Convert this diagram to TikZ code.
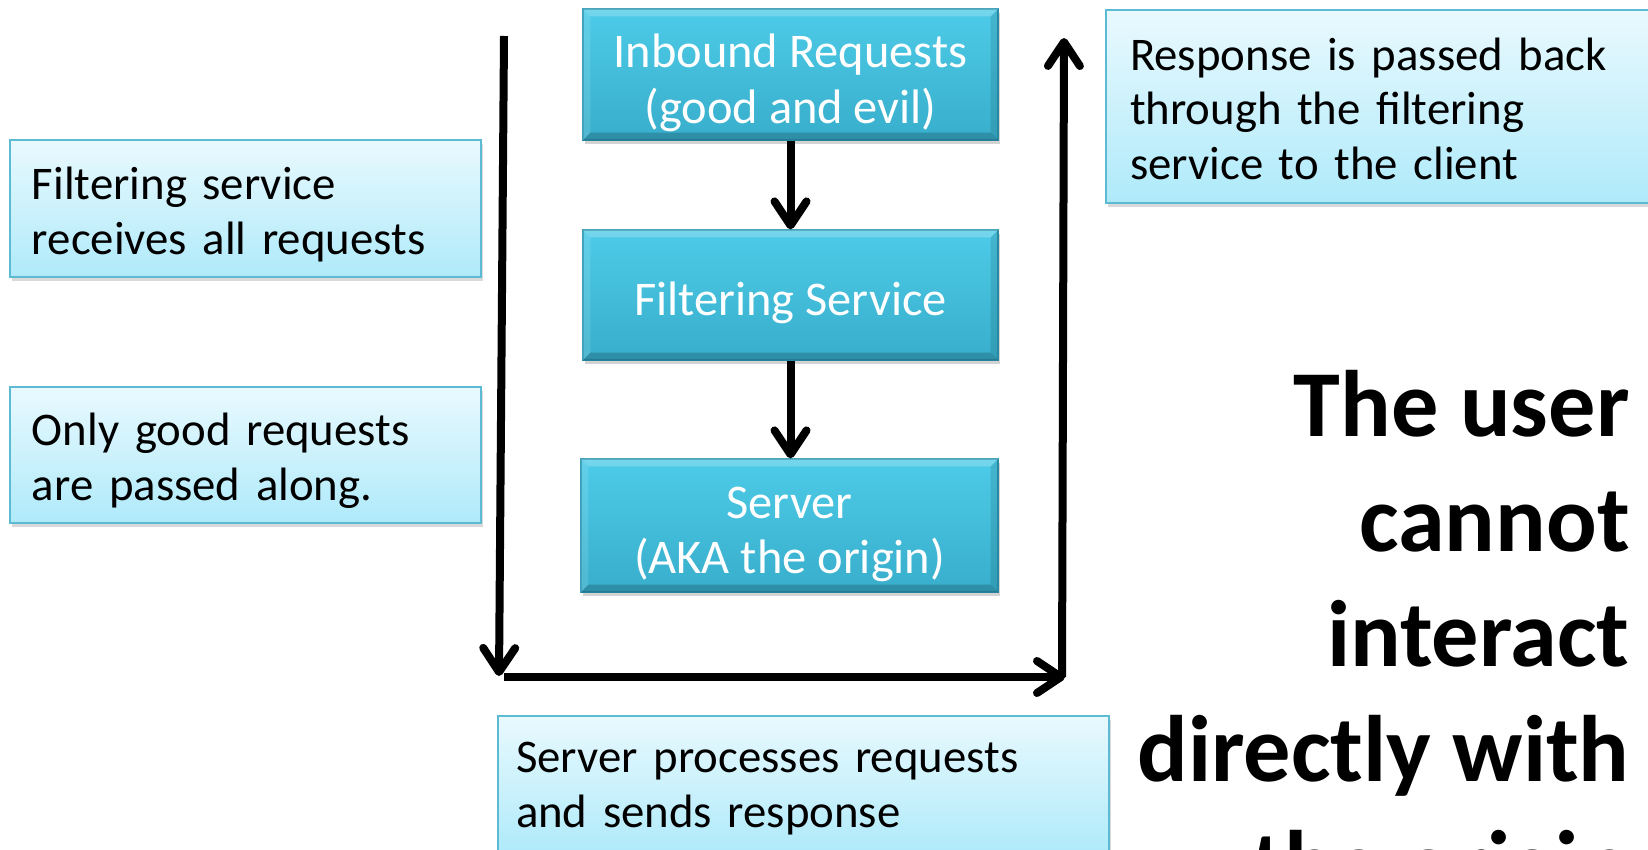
\documentclass[tikz,border=0pt]{standalone}
\usepackage{fontspec}
\setmainfont{Carlito}
\usetikzlibrary{arrows.meta,shadows,calc}
\definecolor{tealtop}{HTML}{4DCBE8}
\definecolor{tealbot}{HTML}{38AECB}
\definecolor{tealedge}{HTML}{2C97B2}
\definecolor{notetop}{HTML}{E9F9FE}
\definecolor{notebot}{HTML}{AFEAFA}
\definecolor{noteedge}{HTML}{5CBAD2}
\newcommand\boxbevel[1]{%
 \fill[white,opacity=0.22] (#1.north west) -- (#1.north east) -- ($(#1.north east)+(-8,8)$) -- ($(#1.north west)+(8,8)$) -- cycle;
 \fill[white,opacity=0.12] (#1.north west) -- ($(#1.north west)+(8,8)$) -- ($(#1.south west)+(8,-8)$) -- (#1.south west) -- cycle;
 \fill[black,opacity=0.10] (#1.north east) -- ($(#1.north east)+(-8,8)$) -- ($(#1.south east)+(-8,-8)$) -- (#1.south east) -- cycle;
 \fill[black,opacity=0.18] (#1.south west) -- ($(#1.south west)+(8,-8)$) -- ($(#1.south east)+(-8,-8)$) -- (#1.south east) -- cycle;
}
\newcommand\lift[1]{\rule{0pt}{#1}}
\begin{document}
\begin{tikzpicture}[x=0.5pt,y=-0.5pt,
  procbox/.style={rectangle, draw=tealedge, line width=0.6pt, top color=tealtop, bottom color=tealbot,
    text=white, font=\fontsize{24.2}{27.8}\selectfont, align=center, inner sep=0pt,
    drop shadow={opacity=0.35, shadow xshift=1pt, shadow yshift=-2pt}},
  notebox/.style={rectangle, draw=noteedge, line width=0.8pt, top color=notetop, bottom color=notebot,
    text=black, font=\fontsize{23.4}{27.3}\selectfont, align=left, inner ysep=0pt,
    drop shadow={opacity=0.3, shadow xshift=1pt, shadow yshift=-2pt}},
  flow/.style={line width=4pt, -{Straight Barb[length=12pt,width=16pt,round]}},
  bigtext/.style={font=\fontsize{47.2}{57.5}\bfseries\selectfont, anchor=base east, inner sep=0pt}
]
\useasboundingbox (0,0) rectangle (1648,850);
\clip (0,0) rectangle (1648,850);

% process boxes
\node[procbox, minimum width=207.5pt, minimum height=65.5pt] (inb) at (790.5,74.5) {\lift{25pt}Inbound Requests\\(good and evil)};
\boxbevel{inb}
\node[procbox, minimum width=207.5pt, minimum height=65pt] (flt) at (790.5,295) {\lift{25pt}Filtering Service};
\boxbevel{flt}
\node[procbox, minimum width=208.5pt, minimum height=66.5pt] (srv) at (789.5,525.5) {\lift{24.5pt}Server\\(AKA the origin)};
\boxbevel{srv}

% notes
\node[notebox, text width=213.5pt, inner xsep=11pt, minimum height=68.5pt] (n1) at (245.5,208.5) {\lift{22pt}Filtering service\\receives all requests};
\node[notebox, text width=213.5pt, inner xsep=11pt, minimum height=68pt] (n2) at (245.5,455) {\lift{22pt}Only good requests\\are passed along.};
\node[notebox, text width=263pt, inner xsep=12pt, minimum height=96.5pt] (n3) at (1393,106.5) {\lift{18.5pt}Response is passed back\\through the filtering\\service to the client};
\node[notebox, text width=287.5pt, inner xsep=9pt, minimum height=68.5pt] (bot) at (803.5,784.5) {\lift{19pt}Server processes requests\\and sends response};

% flow arrows between boxes
\draw[flow] (inb.south) -- (inb.south |- flt.north);
\draw[flow] (flt.south) -- (flt.south |- srv.north);

% outer loop
\coordinate (lt) at (504,36);
\coordinate (lb) at (499,676);
\coordinate (bl) at (504,677);
\coordinate (br) at (1065,677);
\coordinate (rb) at (1062,677);
\coordinate (rt) at (1064,38);
\draw[flow] (lt) -- (lb);
\draw[flow] (bl) -- (br);
\draw[flow] (rb) -- (rt);

% big statement
\node[bigtext] (b1) at (1630,436) {The user};
\node[bigtext] (b2) at (1630,551) {cannot};
\node[bigtext] (b3) at (1630,666) {interact};
\node[bigtext] (b4) at (1630,781) {directly with};
\node[bigtext] (b5) at (1630,896) {the origin};
\end{tikzpicture}
\end{document}
